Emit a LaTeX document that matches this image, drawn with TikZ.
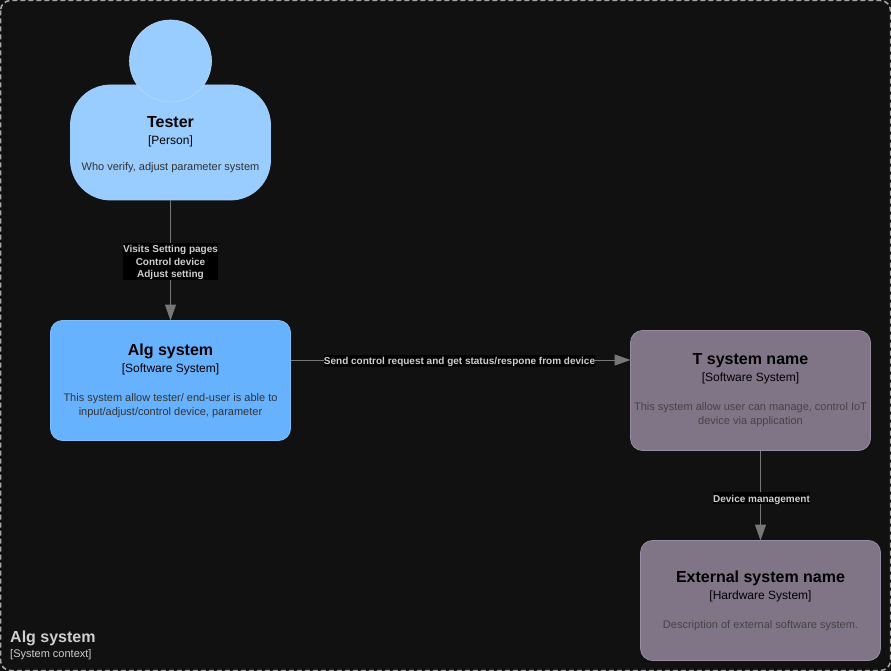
\documentclass[tikz,border=0pt]{standalone}
\usepackage{fontspec}
\setmainfont{Liberation Sans}
\usetikzlibrary{arrows.meta}
\definecolor{bgdark}{HTML}{111111}
\definecolor{framegray}{HTML}{A8A8A8}
\definecolor{linkgray}{HTML}{777777}
\definecolor{labelgray}{HTML}{CFCFCF}
\definecolor{personblue}{HTML}{99CCFF}
\definecolor{personline}{HTML}{B8DAFF}
\definecolor{sysblue}{HTML}{66B2FF}
\definecolor{sysline}{HTML}{80BFFF}
\definecolor{extgray}{HTML}{7F7587}
\definecolor{extline}{HTML}{978CA2}
\definecolor{desctext}{HTML}{333333}
\definecolor{extdesc}{HTML}{444444}
\newcommand{\boxtext}[4][15pt]{{\color{black}\fontsize{16}{20}\bfseries #2}\\[3pt]{\color{black}\fontsize{12}{14}\selectfont [#3]}\\[#1]#4}
\newcommand{\lbl}[1]{\rule[-2pt]{0pt}{12pt}#1}
\tikzset{
  box/.style={draw, inner sep=0pt, outer sep=0pt, line width=0.8pt, align=center, minimum width=240pt, minimum height=120pt, rounded corners=12pt, font=\fontsize{11}{14}\selectfont},
  person/.style={box, fill=personblue, draw=personblue, text=desctext, minimum width=200pt, minimum height=115pt, rounded corners=40pt},
  softsys/.style={box, fill=sysblue, draw=sysline, text=desctext},
  extsys/.style={box, fill=extgray, draw=extline, text=extdesc},
  link/.style={draw=linkgray, line width=1pt, -{Triangle[length=16pt,width=11pt,fill=linkgray]}},
  linklabel/.style={fill=black, text=labelgray, inner sep=0pt, align=center, font=\fontsize{10}{12}\selectfont\bfseries}
}
\begin{document}
\begin{tikzpicture}[x=1pt,y=-1pt]
\useasboundingbox (0,0) rectangle (891,671);
\fill[bgdark] (0,0) rectangle (891,671);
\draw[framegray, line width=1.5pt, dash pattern=on 5pt off 3pt, rounded corners=10pt] (0.5,0.5) rectangle (890.5,670.5);
\node[person] (tester) at (170.5,142.5) {\boxtext[12.5pt]{\rule{0pt}{15pt}Tester}{Person}{Who verify, adjust parameter system}};
\node[circle, fill=personblue, draw=personline, line width=0.6pt, inner sep=0pt, minimum size=82pt] (testerhead) at (170.5,61) {};
\node[softsys] (alg) at (170.5,380.5) {\boxtext{Alg system}{Software System}{This system allow tester/ end-user is able to\\input/adjust/control device, parameter}};
\node[extsys] (tsys) at (750.5,390.5) {\boxtext{T system name}{Software System}{This system allow user can manage, control IoT\\device via application}};
\node[extsys] (extsystem) at (760.5,600.5) {\boxtext{External system name}{Hardware System}{Description of external software system.}};
\node[anchor=south west, align=left, text=labelgray, inner sep=0pt] (boundary) at (10,660) {{\fontsize{16}{20}\selectfont\bfseries Alg system}\\[3pt]\fontsize{11}{14}\selectfont [System context]};
\coordinate (sendline) at (0,360);
\draw[link] (tester) -- node[linklabel, pos=0.51] (visitslabel) {\lbl{Visits Setting pages}\\\lbl{Control device}\\\lbl{Adjust setting}} (alg);
\draw[link] (alg.east |- sendline) -- node[linklabel, xshift=-1pt, yshift=-1pt] (sendlabel) {\lbl{Send control request and get status/respone from device}} (tsys.west |- sendline);
\draw[link] (tsys.south -| extsystem.north) -- node[linklabel, pos=0.53, xshift=1pt] (devicelabel) {\lbl{Device management}} (extsystem.north);
\end{tikzpicture}
\end{document}
